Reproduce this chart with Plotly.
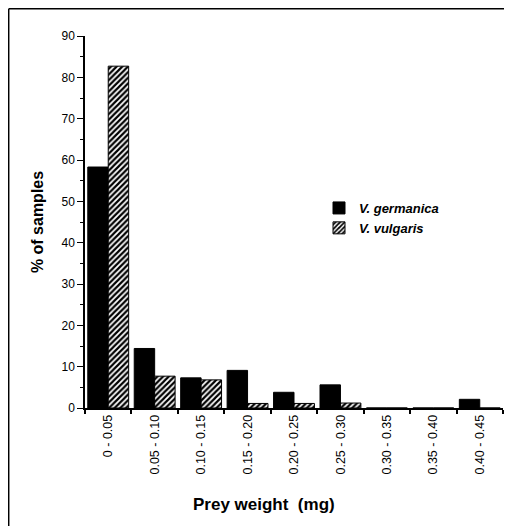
import plotly.graph_objects as go

categories = ["0 - 0.05", "0.05 - 0.10", "0.10 - 0.15", "0.15 - 0.20", "0.20 - 0.25",
              "0.25 - 0.30", "0.30 - 0.35", "0.35 - 0.40", "0.40 - 0.45"]
germanica = [58.3, 14.4, 7.3, 9.1, 3.8, 5.6, 0, 0, 2.1]
vulgaris = [82.7, 7.7, 6.8, 1.1, 1.1, 1.2, 0, 0, 0]
y_ticks = [0, 10, 20, 30, 40, 50, 60, 70, 80, 90]

FONT = "Liberation Sans, Arial, sans-serif"

# page is offset by the default 8px body margin
W, H = 504, 518
L, R, T, B = 77, 9, 28, 118
PW, PH = W - L - R, H - T - B


def px(xw):  # window x -> paper
    return (xw - 8 - L) / PW


def py(yw):  # window y -> paper
    return (H - B - (yw - 8)) / PH


fig = go.Figure()
fig.add_trace(go.Bar(
    x=categories, y=germanica, name="<b><i>V. germanica</i></b>",
    marker=dict(color="black", line=dict(color="black", width=1)),
))
fig.add_trace(go.Bar(
    x=categories, y=vulgaris, name="<b><i>V. vulgaris</i></b>",
    marker=dict(color="white", line=dict(color="black", width=1),
                pattern=dict(shape="/", fgcolor="black", bgcolor="white",
                             size=4, solidity=0.55, fillmode="replace")),
))

fig.update_layout(
    width=W, height=H,
    margin=dict(l=L, r=R, t=T, b=B),
    paper_bgcolor="white", plot_bgcolor="white",
    barmode="group", bargap=0.12, bargroupgap=0,
    font=dict(family=FONT, color="black", size=12),
    legend=dict(x=px(319), y=py(193), xanchor="left", yanchor="top",
                bgcolor="rgba(0,0,0,0)", font=dict(size=13, family=FONT)),
    xaxis=dict(
        type="category", range=[-0.5, 8.5], tickson="boundaries",
        showline=True, linecolor="black", linewidth=1.5,
        ticks="outside", ticklen=4, tickcolor="black", tickwidth=1.5,
        tickangle=-90, tickfont=dict(size=12.5), showgrid=False,
    ),
    yaxis=dict(
        range=[0, 90], tickvals=y_ticks, showline=True, linecolor="black", linewidth=1.5,
        ticks="outside", ticklen=6, tickcolor="black", tickwidth=1.2,
        minor=dict(dtick=5, ticks="outside", ticklen=3, tickcolor="black", tickwidth=1),
        showgrid=False, zeroline=False, tickfont=dict(size=12),
        title=dict(text="<b>% of samples</b>", font=dict(size=16), standoff=14),
    ),
)

fig.add_annotation(text="<b>Prey weight  (mg)</b>", xref="paper", yref="paper",
                   x=px(264), y=py(504), showarrow=False,
                   font=dict(size=17, family=FONT), xanchor="center", yanchor="middle")

# page frame (left and top edges)
fig.add_shape(type="line", xref="paper", yref="paper",
              x0=px(8.7), x1=px(8.7), y0=py(526), y1=py(8.7),
              line=dict(color="black", width=1.5))
fig.add_shape(type="line", xref="paper", yref="paper",
              x0=px(8.7), x1=px(512), y0=py(8.7), y1=py(8.7),
              line=dict(color="black", width=1.5))

fig.write_html("out.html")
